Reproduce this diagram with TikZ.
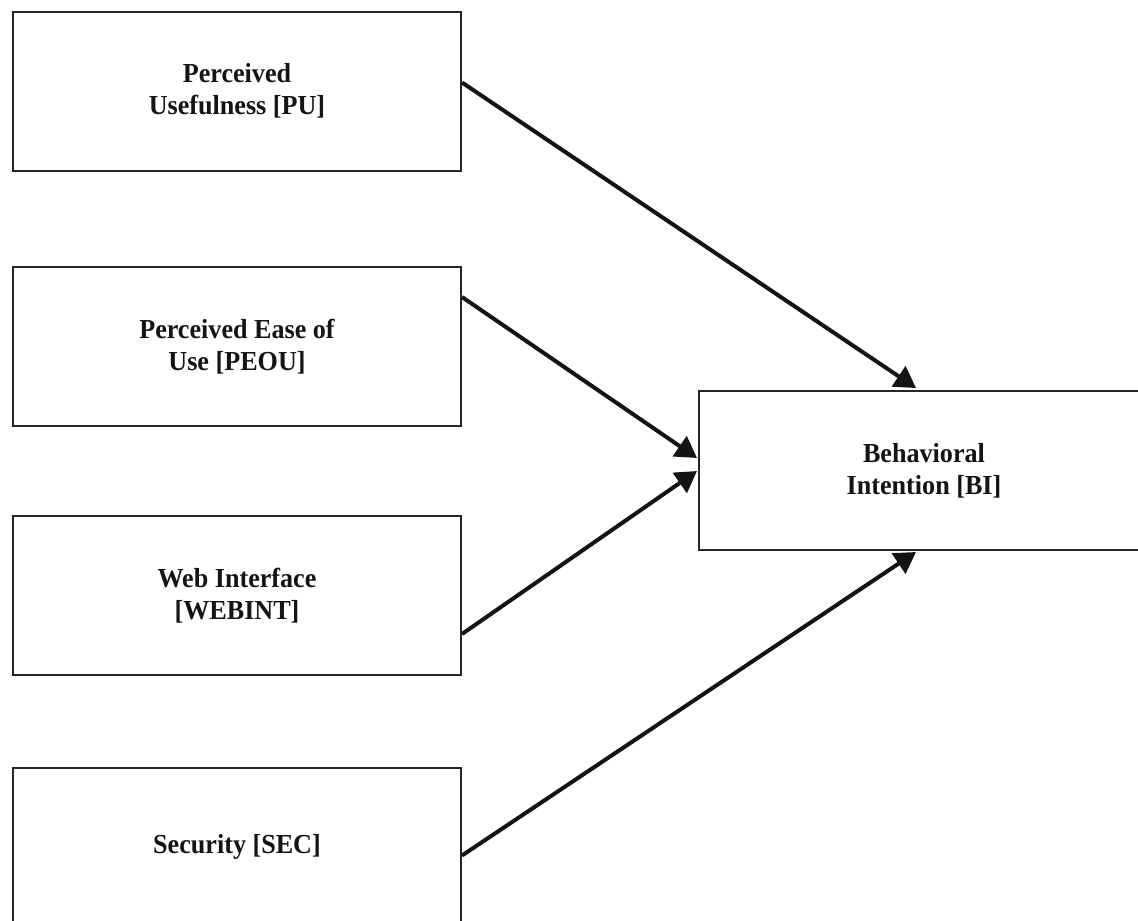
\documentclass[tikz,border=0pt]{standalone}
\usepackage{fontspec}
\setmainfont[FakeStretch=0.95]{Liberation Serif}
\usetikzlibrary{arrows.meta,calc}
\begin{document}
\begin{tikzpicture}[x=1pt,y=-1pt,
  box/.style={draw=black!85, line width=2pt, fill=white, minimum width=448pt,
    minimum height=159pt, inner sep=0pt, align=center,
    font=\fontsize{27.5}{32}\selectfont\bfseries, text=black!92},
  link/.style={line width=4pt, draw=black!92,
    -{Triangle[length=21pt,width=24pt]}}]
\useasboundingbox (0,0) rectangle (1138,921);
\clip (0,0) rectangle (1138,921);
\node[box] (PU) at (237,91) {Perceived\\Usefulness [PU]};
\node[box] (PEOU) at (237,346.5) {Perceived Ease of\\Use [PEOU]};
\node[box] (WEB) at (237,595.5) {Web Interface\\{[WEBINT]}};
\node[box] (SEC) at (237,847) {Security [SEC]};
\node[box, minimum width=450pt] (BI) at (924,470.5) {Behavioral\\Intention [BI]};
\coordinate (s1) at ($(PU.north east)+(0,72)$);
\coordinate (s2) at ($(PEOU.north east)+(0,31)$);
\coordinate (s3) at ($(WEB.south east)+(0,-42)$);
\coordinate (s4) at ($(SEC.north east)+(0,89)$);
\coordinate (e1) at ($(BI.north west)+(218,-2)$);
\coordinate (e2) at ($(BI.north west)+(-1,68)$);
\coordinate (e3) at ($(BI.north west)+(-1,81)$);
\coordinate (e4) at ($(BI.south west)+(218,1)$);
\draw[link] (s1) -- (e1);
\draw[link] (s2) -- (e2);
\draw[link] (s3) -- (e3);
\draw[link] (s4) -- (e4);
\end{tikzpicture}
\end{document}
